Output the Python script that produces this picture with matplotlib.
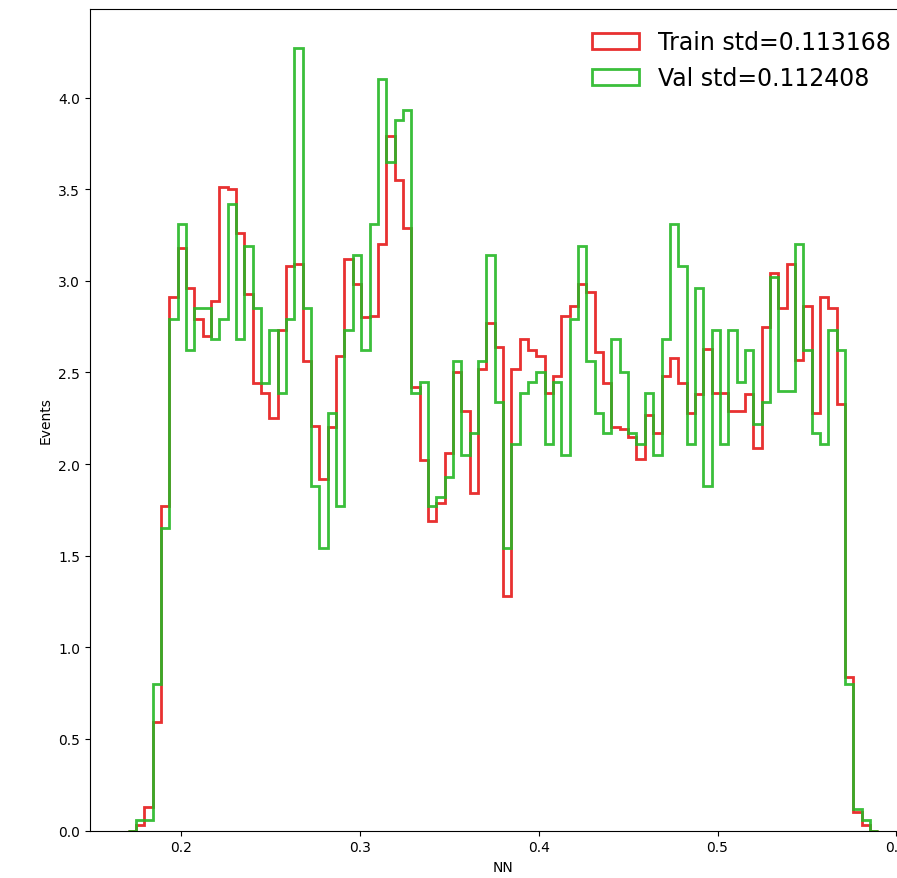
import matplotlib
matplotlib.use("Agg")
import matplotlib.pyplot as plt
import numpy as np

# bin edges of the NN output histogram (90 bins)
edges = np.linspace(0.17, 0.59, 91)

train = [0.00, 0.03, 0.13, 0.59, 1.77, 2.91, 3.18, 2.96, 2.79, 2.70,
         2.89, 3.51, 3.50, 3.26, 2.93, 2.44, 2.39, 2.25, 2.73, 3.08,
         3.09, 2.56, 2.21, 1.92, 2.20, 2.59, 3.12, 2.98, 2.80, 2.81,
         3.20, 3.79, 3.55, 3.29, 2.42, 2.02, 1.69, 1.79, 2.06, 2.50,
         2.29, 1.84, 2.52, 2.77, 2.64, 1.28, 2.52, 2.68, 2.62, 2.59,
         2.39, 2.48, 2.81, 2.86, 2.98, 2.94, 2.61, 2.44, 2.20, 2.19,
         2.15, 2.03, 2.27, 2.17, 2.48, 2.58, 2.44, 2.28, 2.38, 2.63,
         2.39, 2.39, 2.29, 2.29, 2.38, 2.09, 2.75, 3.04, 2.85, 3.09,
         2.57, 2.86, 2.28, 2.91, 2.85, 2.33, 0.84, 0.10, 0.03, 0.00]

val = [0.00, 0.06, 0.06, 0.80, 1.65, 2.79, 3.31, 2.62, 2.85, 2.85,
       2.68, 2.79, 3.42, 2.68, 3.19, 2.85, 2.44, 2.73, 2.39, 2.79,
       4.27, 2.85, 1.88, 1.54, 2.28, 1.77, 2.73, 3.14, 2.62, 3.31,
       4.10, 3.65, 3.88, 3.93, 2.39, 2.45, 1.77, 1.82, 1.93, 2.56,
       2.05, 2.17, 2.56, 3.14, 2.34, 1.54, 2.11, 2.39, 2.45, 2.50,
       2.11, 2.45, 2.05, 2.79, 3.19, 2.56, 2.28, 2.17, 2.68, 2.50,
       2.17, 2.11, 2.39, 2.05, 2.68, 3.31, 3.08, 2.11, 2.96, 1.88,
       2.73, 2.11, 2.73, 2.45, 2.62, 2.22, 2.34, 3.02, 2.40, 2.40,
       3.20, 2.62, 2.17, 2.11, 2.73, 2.62, 0.80, 0.12, 0.06, 0.00]

train_std = 0.113168
val_std = 0.112408

centers = 0.5 * (edges[:-1] + edges[1:])

fig = plt.figure(figsize=(8.97, 8.79), dpi=100)
# axes runs past the right border (the original picture was cropped)
ax = fig.add_axes([90 / 897, 47.5 / 879, 826 / 897, 821.5 / 879])

ax.hist(centers, bins=edges, weights=train, histtype='step', linewidth=2,
        color=(0.9, 0.1, 0.1), alpha=0.9, label='Train std=%f' % train_std)
ax.hist(centers, bins=edges, weights=val, histtype='step', linewidth=2,
        color=(0.15, 0.72, 0.15), alpha=0.9, label='Val std=%f' % val_std)

ax.set_xlabel('NN')
ax.set_ylabel('Events')
ax.legend(loc='upper right', frameon=False, fontsize=17,
          bbox_to_anchor=(1 - 4 / 826, 1))

fig.savefig('out.png', dpi=100)
